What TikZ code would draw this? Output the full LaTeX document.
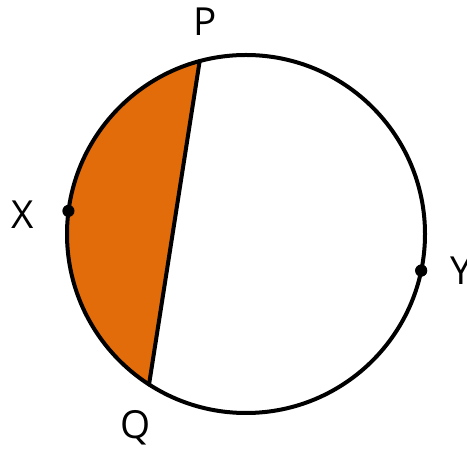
\documentclass[tikz,border=0pt]{standalone}
\usepackage{fontspec}
\setmainfont{Open Sans}
\usetikzlibrary{positioning}

\begin{document}
\begin{tikzpicture}[
    x=0.75pt, y=0.75pt,
    rim/.style={draw=black, line width=3pt},
    dot/.style={circle, fill=black, inner sep=0pt, minimum size=9pt},
    lbl/.style={inner sep=0pt, font=\fontsize{29}{34}\selectfont}
  ]
  \definecolor{segorange}{RGB}{227,108,10}
  \useasboundingbox (0,0) rectangle (467,449);

  % Circle and points on it
  \coordinate (O) at (246,215);
  \coordinate (P) at ([shift={(O)}]105:179);
  \coordinate (Q) at ([shift={(O)}]237.2:179);
  \node[dot] (X) at ([shift={(O)}]172.6:179) {};
  \node[dot] (Y) at ([shift={(O)}]-11.8:179) {};

  % Shaded segment
  \fill[segorange] (P) arc[start angle=105, end angle=237.2, radius=179] -- cycle;
  \draw[rim] (O) circle[radius=179];
  \draw[rim, line cap=round] (P) -- (Q);
  \node[dot] at (X) {};
  \node[dot] at (Y) {};

  % Labels
  \node[lbl, above=19pt of P, xshift=4pt] (labelP) {P};
  \node[lbl, below=19pt of Q, xshift=-10pt] (labelQ) {Q};
  \node[lbl, left=21pt of X, yshift=-3pt] (labelX) {X};
  \node[lbl, right=17pt of Y] (labelY) {Y};

\end{tikzpicture}
\end{document}
